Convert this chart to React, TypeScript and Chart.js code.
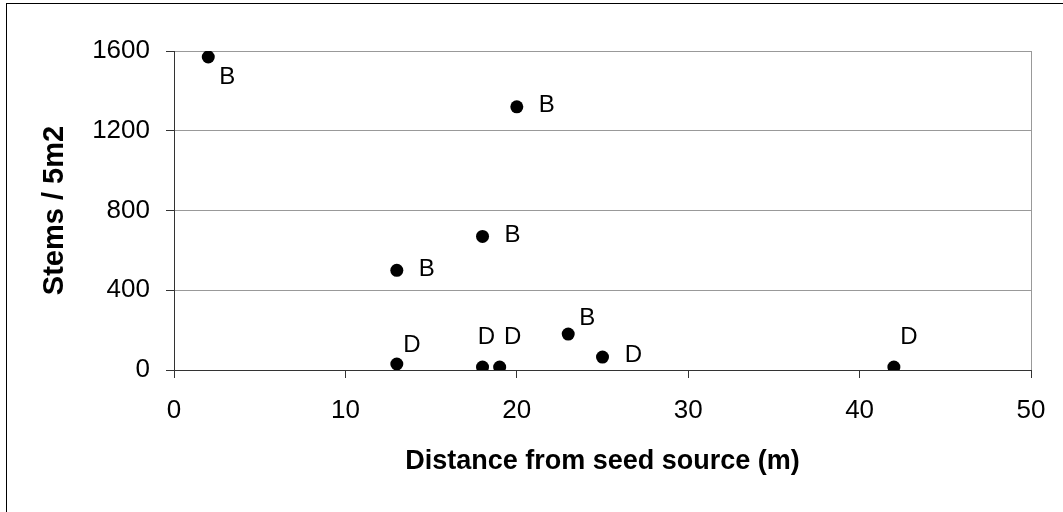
import React, { useEffect, useRef } from "react";
import { Chart, registerables } from "chart.js";

Chart.register(...registerables);

const distances = [2, 20, 18, 13, 13, 18, 19, 23, 25, 42];
const stems = [1570, 1320, 670, 500, 30, 15, 15, 180, 65, 15];
const siteLabels = ["B", "B", "B", "B", "D", "D", "D", "B", "D", "D"];
const labelOffsets: [number, number][] = [
  [19, 20], [30, -1], [30, -1], [30, -1], [15, -19],
  [4, -30], [13, -30], [19, -16], [31, -2], [15, -30],
];
const xTitle = "Distance from seed source (m)";
const yTitle = "Stems / 5m2";

const FONT = "'Liberation Sans', Arial, sans-serif";

const decorPlugin = {
  id: "decor",
  beforeDraw(chart: any) {
    const { ctx } = chart;
    ctx.save();
    ctx.fillStyle = "#ffffff";
    ctx.fillRect(0, 0, chart.width, chart.height);
    ctx.strokeStyle = "#000000";
    ctx.lineWidth = 1;
    ctx.strokeRect(6.5, 3.5, chart.width + 20, chart.height + 20);
    ctx.restore();
  },
  afterDatasetsDraw(chart: any) {
    const { ctx, chartArea } = chart;
    ctx.save();
    ctx.strokeStyle = "#999999";
    ctx.lineWidth = 1;
    ctx.beginPath();
    ctx.moveTo(chartArea.right + 0.5, chartArea.top);
    ctx.lineTo(chartArea.right + 0.5, chartArea.bottom);
    ctx.stroke();
    const meta = chart.getDatasetMeta(0);
    ctx.fillStyle = "#000000";
    ctx.font = `24px ${FONT}`;
    ctx.textAlign = "center";
    ctx.textBaseline = "middle";
    meta.data.forEach((pt: any, i: number) => {
      const [dx, dy] = labelOffsets[i];
      ctx.fillText(siteLabels[i], pt.x + dx, pt.y + dy);
    });
    ctx.restore();
  },
};

export default function App() {
  const ref = useRef<HTMLCanvasElement | null>(null);
  useEffect(() => {
    if (!ref.current) return;
    const chart = new Chart(ref.current, {
      type: "scatter",
      data: {
        datasets: [
          {
            data: distances.map((x, i) => ({ x, y: stems[i] })),
            backgroundColor: "#000000",
            borderColor: "#000000",
            pointRadius: 6.5,
            pointHoverRadius: 6.5,
            borderWidth: 0,
          },
        ],
      },
      options: {
        animation: false,
        responsive: true,
        maintainAspectRatio: false,
        layout: { padding: { top: 51, right: 32, left: 0, bottom: 0 } },
        plugins: { legend: { display: false }, tooltip: { enabled: false } },
        scales: {
          x: {
            type: "linear",
            min: 0,
            max: 50,
            ticks: { stepSize: 10, color: "#000", font: { family: FONT, size: 26 }, padding: 17 },
            grid: { drawOnChartArea: false, drawTicks: true, tickLength: 8, tickColor: "#333" },
            border: { color: "#333", width: 1 },
            title: {
              display: true,
              text: xTitle,
              color: "#000",
              font: { family: FONT, size: 27, weight: "bold" },
              padding: { top: 0, bottom: 34 },
            },
            afterFit: (s: any) => {
              s.height = 142;
            },
          },
          y: {
            min: 0,
            max: 1600,
            ticks: {
              stepSize: 400,
              color: "#000",
              font: { family: FONT, size: 26 },
              padding: 16,
              callback: (v: any) => String(v),
            },
            grid: { color: "#999", tickLength: 8, tickColor: "#333" },
            border: { color: "#333", width: 1 },
            title: {
              display: true,
              text: yTitle,
              color: "#000",
              font: { family: FONT, size: 29, weight: "bold" },
              padding: { top: 38, bottom: 0 },
            },
            afterFit: (s: any) => {
              s.width = 174;
            },
          },
        },
      },
      plugins: [decorPlugin],
    });
    return () => chart.destroy();
  }, []);
  return (
    <div style={{ position: "absolute", left: 0, top: 0, width: 1063, height: 512 }}>
      <canvas ref={ref} />
    </div>
  );
}
